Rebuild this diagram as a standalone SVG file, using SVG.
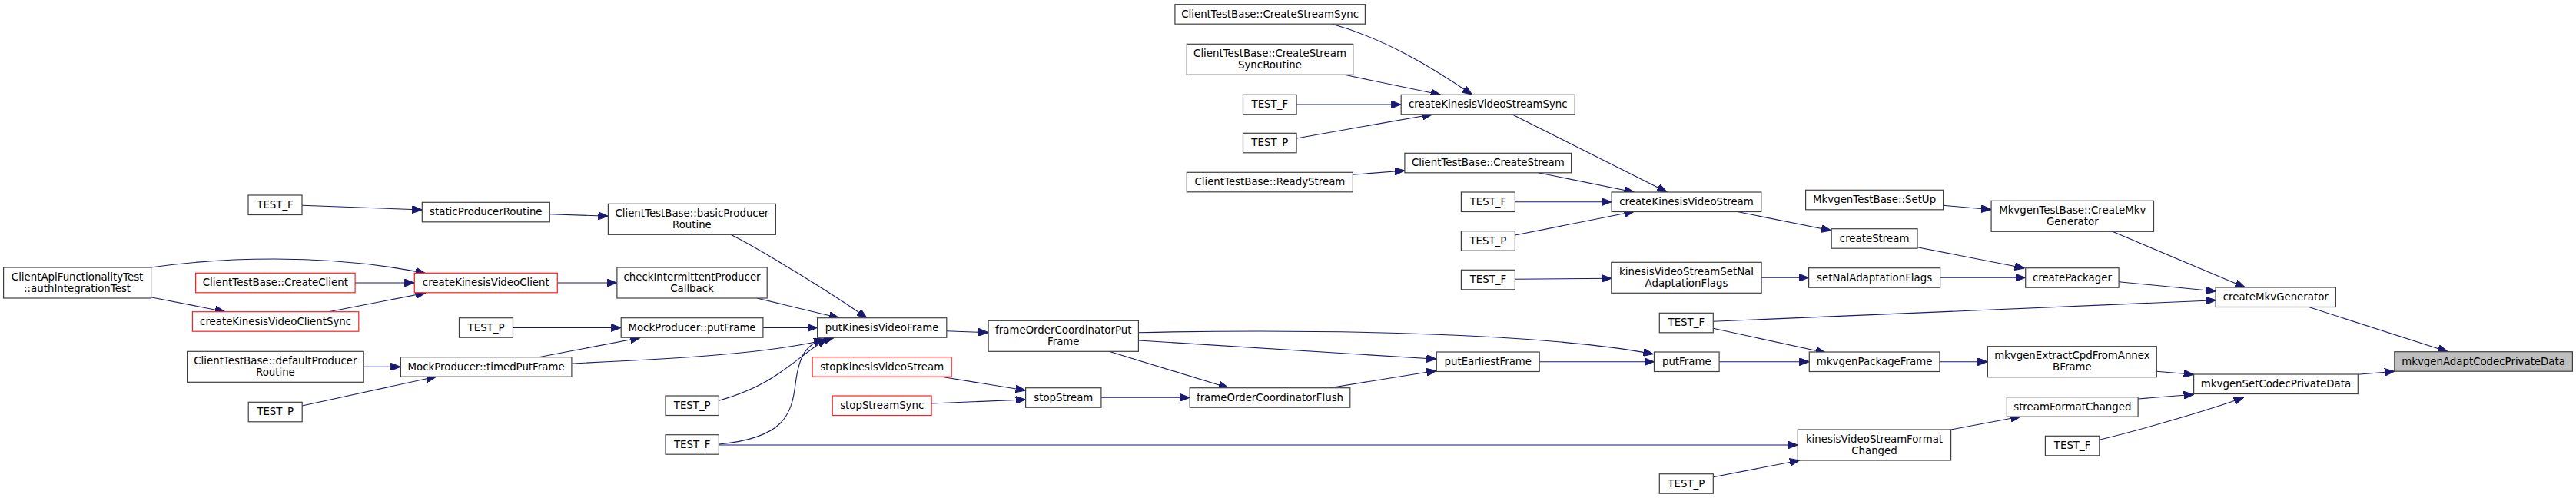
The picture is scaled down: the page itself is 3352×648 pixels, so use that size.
<svg xmlns="http://www.w3.org/2000/svg" width="3352" height="648" viewBox="0 0 3352 648">
<style>
.n rect{fill:#fff;stroke:#404040;stroke-width:1.2}
.r rect{fill:#fff;stroke:#ff2020;stroke-width:1.2}
.g rect{fill:#bfbfbf;stroke:#404040;stroke-width:1.2}
text{font-family:"DejaVu Sans",sans-serif;font-size:13.33px;fill:#000;text-anchor:middle}
.e path{fill:none;stroke:#191970;stroke-width:1.1;marker-end:url(#ah)}
</style>
<defs>
<marker id="ah" viewBox="0 0 13 10" refX="13" refY="5" markerWidth="13" markerHeight="10" markerUnits="userSpaceOnUse" orient="auto">
<path d="M0,0 L13,5 L0,10 z" fill="#191970" stroke="#191970" stroke-width="1"/>
</marker>
</defs>
<rect width="3352" height="648" fill="#fff"/>
<g class="e" id="edges">
<path d="M393.2,267.3 L549.3,273"/>
<path d="M715.4,278.7 L791.4,281.3"/>
<path d="M951,305.3 C990,325 1080,380 1128,413.7"/>
<path d="M196.4,348 C280,336 420,328 553.6,355.7"/>
<path d="M462.1,368 L539.3,368"/>
<path d="M196.4,386.7 L292.9,405.7"/>
<path d="M427.5,405.7 L553.6,381.3"/>
<path d="M725.4,368 L802.9,368"/>
<path d="M985,388 L1092,413.7"/>
<path d="M667.1,426.5 L808.2,426.5"/>
<path d="M701,464.7 L833.2,439.5"/>
<path d="M992.9,426.5 L1063.6,426.5"/>
<path d="M743.9,473 C850,468 1000,462 1085,439.5"/>
<path d="M473.2,477.3 L521.4,477.3"/>
<path d="M393.2,528 L568,490"/>
<path d="M935.4,521.3 C1010,500 1030,470 1076,440.5"/>
<path d="M935.4,578 C1020,570 1030,540 1035,500 C1040,460 1050,448 1072,441"/>
<path d="M935.4,579 L2339.3,579"/>
<path d="M1231.8,430.7 L1286.1,432.7"/>
<path d="M1223.6,490 L1334.6,508"/>
<path d="M1212.1,525 L1334.6,520"/>
<path d="M1432.9,517.3 L1548.2,517.3"/>
<path d="M1443.2,457.3 L1598.6,504.7"/>
<path d="M1481.4,432.7 C1700,428 2000,432 2151.4,460.7"/>
<path d="M1481.4,443 L1869.3,467.3"/>
<path d="M1730,504.7 L1869.3,482.3"/>
<path d="M2003.2,470.7 L2152.5,470.7"/>
<path d="M2237.1,470.7 L2354.3,470.7"/>
<path d="M2229.3,427.3 L2375.7,459"/>
<path d="M2229.3,418.3 L2883.4,390.7"/>
<path d="M2523.9,470.7 L2586.4,470.7"/>
<path d="M2806.3,483.3 L2854.6,487.3"/>
<path d="M2782.1,519 L2854.6,513.3"/>
<path d="M2731.8,572.3 C2790,558 2870,535 2919.7,517.3"/>
<path d="M2538.6,559 L2629.3,542"/>
<path d="M2229.3,620.7 L2341.8,599"/>
<path d="M1733.6,31.3 C1800,50 1860,85 1915.7,123.3"/>
<path d="M1749.6,97.3 L1874.6,123.3"/>
<path d="M1687.1,136 L1823.2,136"/>
<path d="M1687.1,180 L1864,148.7"/>
<path d="M1760.4,227.3 L1827.9,222"/>
<path d="M1967.5,148.7 L2169.3,250"/>
<path d="M2001.4,224.7 L2126.4,250"/>
<path d="M1971.4,262.7 L2097.1,262.7"/>
<path d="M1971.4,306 L2126.4,275.3"/>
<path d="M2259.6,275.3 L2382.9,300"/>
<path d="M2495,321.7 L2634.6,349"/>
<path d="M1971.4,363.3 L2096.8,362.3"/>
<path d="M2292.1,361.3 L2353.6,361.3"/>
<path d="M2524.6,361.3 L2635.7,361.3"/>
<path d="M2757.1,366.7 L2883.4,379"/>
<path d="M2528.6,267.3 L2591.1,272.7"/>
<path d="M2748.9,301.3 L2921.5,374"/>
<path d="M3003.5,399.3 L3185.5,457.7"/>
<path d="M3068.3,487.3 L3115.8,483.3"/>
</g>
<g class="n" id="n1"><rect x="323" y="254" width="70" height="25.5"/><text x="358" y="271">TEST_F</text></g>
<g class="n" id="n2"><rect x="549.3" y="263.3" width="166" height="25.5"/><text x="632.3" y="280.3">staticProducerRoutine</text></g>
<g class="n" id="n3"><rect x="791.4" y="265.3" width="218" height="40"/><text x="900.4" y="281.8">ClientTestBase::basicProducer</text><text x="900.4" y="296.8">Routine</text></g>
<g class="n" id="n4"><rect x="4.6" y="348" width="192" height="40"/><text x="100.6" y="364.5">ClientApiFunctionalityTest</text><text x="100.6" y="379.5">::authIntegrationTest</text></g>
<g class="r" id="n5"><rect x="254.6" y="355.3" width="207.5" height="25.5"/><text x="358.3" y="372.3">ClientTestBase::CreateClient</text></g>
<g class="r" id="n6"><rect x="250.4" y="405.7" width="216.4" height="25.5"/><text x="358.6" y="422.7">createKinesisVideoClientSync</text></g>
<g class="r" id="n7"><rect x="539.3" y="355.3" width="186" height="25.5"/><text x="632.3" y="372.3">createKinesisVideoClient</text></g>
<g class="n" id="n8"><rect x="802.9" y="348" width="195.3" height="40"/><text x="900.5" y="364.5">checkIntermittentProducer</text><text x="900.5" y="379.5">Callback</text></g>
<g class="n" id="n9"><rect x="597.5" y="413.7" width="70" height="25.5"/><text x="632.5" y="430.7">TEST_P</text></g>
<g class="n" id="n10"><rect x="808.2" y="413.7" width="184.7" height="25.5"/><text x="900.5" y="430.7">MockProducer::putFrame</text></g>
<g class="n" id="n11"><rect x="243.6" y="457.3" width="229.6" height="40"/><text x="358.4" y="473.8">ClientTestBase::defaultProducer</text><text x="358.4" y="488.8">Routine</text></g>
<g class="n" id="n12"><rect x="521.4" y="464.7" width="222.5" height="25.5"/><text x="632.6" y="481.7">MockProducer::timedPutFrame</text></g>
<g class="n" id="n13"><rect x="323.2" y="523.3" width="70" height="25.5"/><text x="358.2" y="540.3">TEST_P</text></g>
<g class="n" id="n14"><rect x="1063.6" y="413.7" width="168.2" height="25.5"/><text x="1147.7" y="430.7">putKinesisVideoFrame</text></g>
<g class="n" id="n15"><rect x="866" y="515" width="69.4" height="25.5"/><text x="900.7" y="532">TEST_P</text></g>
<g class="n" id="n16"><rect x="866" y="565.7" width="69.4" height="25.5"/><text x="900.7" y="582.7">TEST_F</text></g>
<g class="r" id="n17"><rect x="1057.1" y="464.7" width="181.1" height="25.5"/><text x="1147.7" y="481.7">stopKinesisVideoStream</text></g>
<g class="r" id="n18"><rect x="1083.2" y="515" width="128.9" height="25.5"/><text x="1147.7" y="532">stopStreamSync</text></g>
<g class="n" id="n19"><rect x="1286.1" y="417.3" width="195.3" height="40"/><text x="1383.8" y="433.8">frameOrderCoordinatorPut</text><text x="1383.8" y="448.8">Frame</text></g>
<g class="n" id="n20"><rect x="1334.6" y="504.7" width="98.3" height="25.5"/><text x="1383.8" y="521.7">stopStream</text></g>
<g class="n" id="n21"><rect x="1548.2" y="504.7" width="208.6" height="25.5"/><text x="1652.5" y="521.7">frameOrderCoordinatorFlush</text></g>
<g class="n" id="n22"><rect x="1869.3" y="458" width="133.9" height="25.5"/><text x="1936.3" y="475">putEarliestFrame</text></g>
<g class="n" id="n23"><rect x="2152.5" y="458" width="84.6" height="25.5"/><text x="2194.8" y="475">putFrame</text></g>
<g class="n" id="n24"><rect x="2159.3" y="407.3" width="70" height="25.5"/><text x="2194.3" y="424.3">TEST_F</text></g>
<g class="n" id="n25"><rect x="2159.3" y="616.7" width="70" height="25.5"/><text x="2194.3" y="633.7">TEST_P</text></g>
<g class="n" id="n26"><rect x="2096.8" y="341.3" width="195.3" height="40"/><text x="2194.5" y="357.8">kinesisVideoStreamSetNal</text><text x="2194.5" y="372.8">AdaptationFlags</text></g>
<g class="n" id="n27"><rect x="1901.4" y="351.3" width="70" height="25.5"/><text x="1936.4" y="368.3">TEST_F</text></g>
<g class="n" id="n28"><rect x="1528.9" y="5.7" width="247.5" height="25.5"/><text x="1652.7" y="22.7">ClientTestBase::CreateStreamSync</text></g>
<g class="n" id="n29"><rect x="1544.3" y="57.3" width="216.4" height="40"/><text x="1652.5" y="73.8">ClientTestBase::CreateStream</text><text x="1652.5" y="88.8">SyncRoutine</text></g>
<g class="n" id="n30"><rect x="1617.5" y="123.3" width="69.6" height="25.5"/><text x="1652.3" y="140.3">TEST_F</text></g>
<g class="n" id="n31"><rect x="1617.5" y="173.3" width="69.6" height="25.5"/><text x="1652.3" y="190.3">TEST_P</text></g>
<g class="n" id="n32"><rect x="1544.3" y="224.3" width="216.1" height="25.5"/><text x="1652.4" y="241.3">ClientTestBase::ReadyStream</text></g>
<g class="n" id="n33"><rect x="1823.2" y="123.3" width="226.1" height="25.5"/><text x="1936.3" y="140.3">createKinesisVideoStreamSync</text></g>
<g class="n" id="n34"><rect x="1827.9" y="199.3" width="216.7" height="25.5"/><text x="1936.3" y="216.3">ClientTestBase::CreateStream</text></g>
<g class="n" id="n35"><rect x="2097.1" y="250" width="194.7" height="25.5"/><text x="2194.5" y="267">createKinesisVideoStream</text></g>
<g class="n" id="n36"><rect x="1901.4" y="250" width="70" height="25.5"/><text x="1936.4" y="267">TEST_F</text></g>
<g class="n" id="n37"><rect x="1901.4" y="300.7" width="70" height="25.5"/><text x="1936.4" y="317.7">TEST_P</text></g>
<g class="n" id="n38"><rect x="2349.6" y="247.3" width="179" height="25.5"/><text x="2439.1" y="264.3">MkvgenTestBase::SetUp</text></g>
<g class="n" id="n39"><rect x="2591.1" y="261.3" width="211.4" height="40"/><text x="2696.8" y="277.8">MkvgenTestBase::CreateMkv</text><text x="2696.8" y="292.8">Generator</text></g>
<g class="n" id="n40"><rect x="2383.2" y="297.7" width="111.8" height="25.5"/><text x="2439.1" y="314.7">createStream</text></g>
<g class="n" id="n41"><rect x="2353.6" y="348.7" width="171" height="25.5"/><text x="2439.1" y="365.7">setNalAdaptationFlags</text></g>
<g class="n" id="n42"><rect x="2635.7" y="348.7" width="121.4" height="25.5"/><text x="2696.4" y="365.7">createPackager</text></g>
<g class="n" id="n43"><rect x="2354.3" y="458" width="169.6" height="25.5"/><text x="2439.1" y="475">mkvgenPackageFrame</text></g>
<g class="n" id="n44"><rect x="2586.4" y="450.7" width="219.9" height="40"/><text x="2696.4" y="467.2">mkvgenExtractCpdFromAnnex</text><text x="2696.4" y="482.2">BFrame</text></g>
<g class="n" id="n45"><rect x="2611.4" y="516.7" width="170.7" height="25.5"/><text x="2696.8" y="533.7">streamFormatChanged</text></g>
<g class="n" id="n46"><rect x="2339.3" y="559" width="199.3" height="40"/><text x="2439" y="575.5">kinesisVideoStreamFormat</text><text x="2439" y="590.5">Changed</text></g>
<g class="n" id="n47"><rect x="2661.4" y="567.3" width="70.4" height="25.5"/><text x="2696.6" y="584.3">TEST_F</text></g>
<g class="n" id="n48"><rect x="2883.1" y="374" width="156.3" height="25.5"/><text x="2961.3" y="391">createMkvGenerator</text></g>
<g class="n" id="n49"><rect x="2854.6" y="487" width="213.7" height="25.5"/><text x="2961.5" y="504">mkvgenSetCodecPrivateData</text></g>
<g class="g" id="n50"><rect x="3115.8" y="457.7" width="231.6" height="25.5"/><text x="3231.6" y="474.7">mkvgenAdaptCodecPrivateData</text></g>
</svg>
